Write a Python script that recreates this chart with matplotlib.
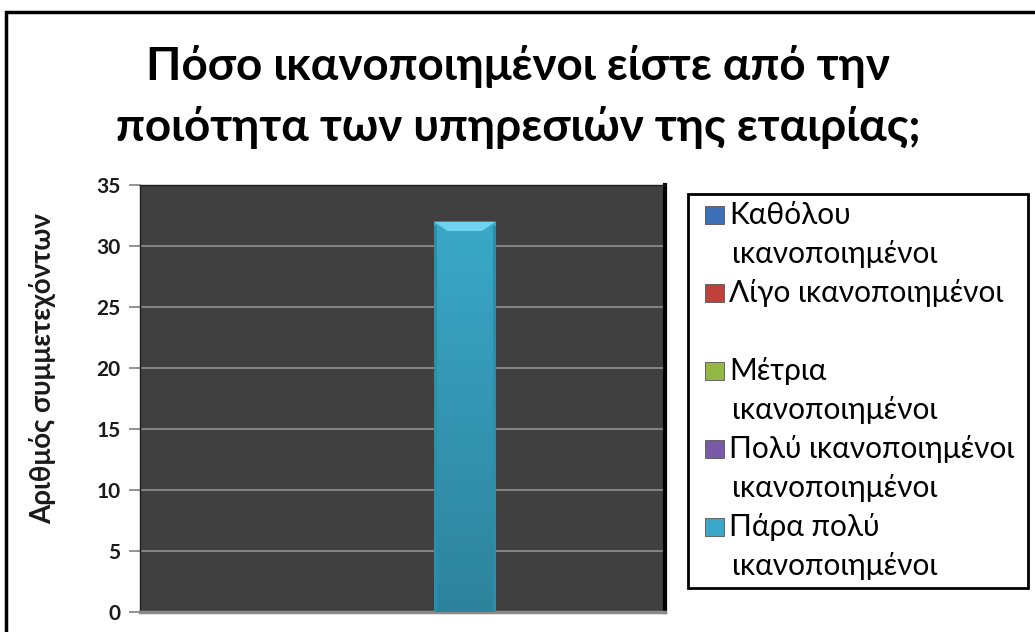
import numpy as np
import matplotlib
matplotlib.use('Agg')
import matplotlib.pyplot as plt
from matplotlib.patches import Rectangle, Polygon

plt.rcParams['font.family'] = ['Lato', 'DejaVu Sans']

# δεδομένα ερωτηματολογίου
series_names = ['Καθόλου\nικανοποιημένοι',
                'Λίγο ικανοποιημένοι\n',
                'Μέτρια\nικανοποιημένοι',
                'Πολύ ικανοποιημένοι\nικανοποιημένοι',
                'Πάρα πολύ\nικανοποιημένοι']
counts = [0, 0, 0, 0, 32]
colors = ['#3b6fb6', '#c0403c', '#93b944', '#7a5aa6', '#3aa8c8']
yticks = [0, 5, 10, 15, 20, 25, 30, 35]
title = 'Πόσο ικανοποιημένοι είστε από την\nποιότητα των υπηρεσιών της εταιρίας;'
ylabel = 'Αριθμός συμμετεχόντων'

W, H = 1035, 632
fig = plt.figure(figsize=(W / 100, H / 100), dpi=100)
fig.patch.set_facecolor('white')

def fx(px):
    return px / W

def fy(py):
    return 1 - py / H

# εξωτερικό πλαίσιο
fig.patches.append(Rectangle((fx(6), -0.2), 1.2, fy(12) + 0.2,
                             transform=fig.transFigure, fill=False,
                             edgecolor='black', linewidth=2.5))

ax = fig.add_axes([fx(140), fy(612), fx(525), 427 / H])
ax.set_facecolor('#404040')
ax.set_ylim(0, 35)
ax.set_xlim(-1.24, 7.23)
ax.set_yticks(yticks)
ax.yaxis.grid(True, color='#8a8a8a', linewidth=1.3)
ax.set_axisbelow(True)
ax.set_xticks([])

for s in ['top', 'left']:
    ax.spines[s].set_color('#202020')
    ax.spines[s].set_linewidth(1)
ax.spines['right'].set_color('black')
ax.spines['right'].set_linewidth(3)
ax.spines['bottom'].set_color('#8a8a8a')
ax.spines['bottom'].set_linewidth(2.5)

ax.tick_params(axis='y', length=8, width=1.3, color='#8a8a8a', pad=6,
               labelsize=15)
for t in ax.get_yticklabels():
    t.set_fontweight('bold')
    t.set_color('#1a1a1a')

x = np.arange(len(counts))
bars = ax.bar(x, counts, width=1.0, color=colors, linewidth=0)

# διαβάθμιση και λοξότμηση στην κορυφή κάθε στήλης
for b, c in zip(bars, colors):
    h = b.get_height()
    if h <= 0:
        continue
    x0, w = b.get_x(), b.get_width()
    grad = np.linspace(1, 0, 256).reshape(-1, 1)
    base = np.array(matplotlib.colors.to_rgb(c))
    dark = base * 0.78
    img = dark + (base - dark) * grad[..., None]
    im = ax.imshow(img, extent=(x0, x0 + w, 0, h), aspect='auto',
                   zorder=3, origin='upper')
    im.set_clip_path(b)
    bev = 0.022 * 35
    ax.add_patch(Polygon([(x0, h), (x0 + w, h), (x0 + w - 0.22, h - bev),
                          (x0 + 0.22, h - bev)], closed=True,
                         facecolor='#6fd2ee', edgecolor='none', zorder=4))
    for xe in (x0, x0 + w - 0.05):
        ax.add_patch(Rectangle((xe, 0), 0.05, h - bev * 0.5,
                               facecolor='#2a8fab', edgecolor='none',
                               zorder=4))

ax.set_ylabel(ylabel, fontsize=20, fontweight='bold', color='#1a1a1a')
ax.yaxis.set_label_coords(-0.16, 0.57)

fig.text(fx(518), fy(97), title, ha='center', va='center',
         fontsize=33, fontweight='bold', linespacing=1.5)

# υπόμνημα: πλαίσιο, τετράγωνα και κείμενα
fig.patches.append(Rectangle((fx(688), fy(588)), fx(1028 - 688),
                             (588 - 194) / H, transform=fig.transFigure,
                             facecolor='white', edgecolor='black',
                             linewidth=2))
row_h = 39
for i, (name, c) in enumerate(zip(series_names, colors)):
    y_top = 215 + 2 * row_h * i
    fig.patches.append(Rectangle((fx(705), fy(y_top + 9)), fx(19), 18 / H,
                                 transform=fig.transFigure, facecolor=c,
                                 edgecolor='#555555', linewidth=0.6))
    lines = name.split('\n')
    for j, line in enumerate(lines):
        xt = 729 if j == 0 else 732
        fig.text(fx(xt), fy(y_top + j * row_h), line, ha='left',
                 va='center', fontsize=21.5, color='black')

fig.savefig('out.png', dpi=100)
